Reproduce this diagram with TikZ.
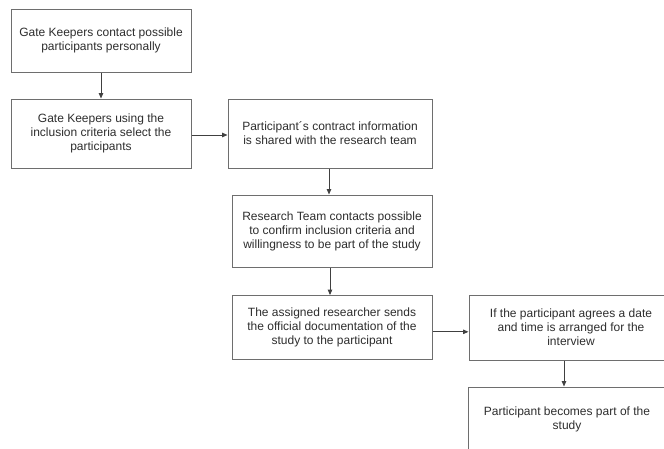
\documentclass[tikz,border=0pt]{standalone}
\usepackage{fontspec}
\setmainfont{Liberation Sans}
\usetikzlibrary{arrows.meta}
\definecolor{boxline}{HTML}{6E6E6E}
\definecolor{txt}{HTML}{2E2E2E}
\begin{document}
\begin{tikzpicture}[x=1pt,y=-1pt,
  box/.style={draw=boxline, line width=1pt, rectangle, inner sep=0pt, align=center,
    text=txt, font=\fontsize{12}{14}\selectfont},
  conn/.style={draw=black!75, line width=0.9pt, -{Triangle[length=5.5pt,width=4.5pt]}}]
\useasboundingbox (0,0) rectangle (664,448);
\fill[white] (0,0) rectangle (664,448);
\clip (0,0) rectangle (664,448);
\node[box, minimum width=180pt, minimum height=63pt] (b1) at (101,40.5)
  {Gate Keepers contact possible\\participants personally};
\node[box, minimum width=180pt, minimum height=69pt] (b2) at (101,133.5)
  {Gate Keepers using the\\inclusion criteria select the\\participants};
\node[box, minimum width=204pt, minimum height=69pt] (b3) at (330,133.5)
  {Participant´s contract information\\is shared with the research team};
\node[box, minimum width=200pt, minimum height=72pt] (b4) at (332,231)
  {Research Team contacts possible\\to confirm inclusion criteria and\\willingness to be part of the study};
\node[box, minimum width=200pt, minimum height=63.5pt] (b5) at (332,327.3)
  {The assigned researcher sends\\the official documentation of the\\study to the participant};
\node[box, minimum width=204pt, minimum height=65pt] (b6) at (571,327.5)
  {If the participant agrees a date\\and time is arranged for the\\interview};
\node[box, minimum width=198pt, minimum height=64pt] (b7) at (567,419)
  {Participant becomes part of the\\study};
\path[conn] (b1.south) -- (b2.north);
\path[conn] ([yshift=-1.5pt]b2.east) -- ([yshift=-1.5pt]b2.east -| b3.west);
\path[conn] ([xshift=-1pt]b3.south) -- ([xshift=-1pt]b3.south |- b4.north);
\path[conn] ([xshift=-2pt]b4.south) -- ([xshift=-2pt]b4.south |- b5.north);
\path[conn] ([yshift=-4.5pt]b5.east) -- ([yshift=-4.5pt]b5.east -| b6.west);
\path[conn] ([xshift=-7pt]b6.south) -- ([xshift=-7pt]b6.south |- b7.north);
\end{tikzpicture}
\end{document}
